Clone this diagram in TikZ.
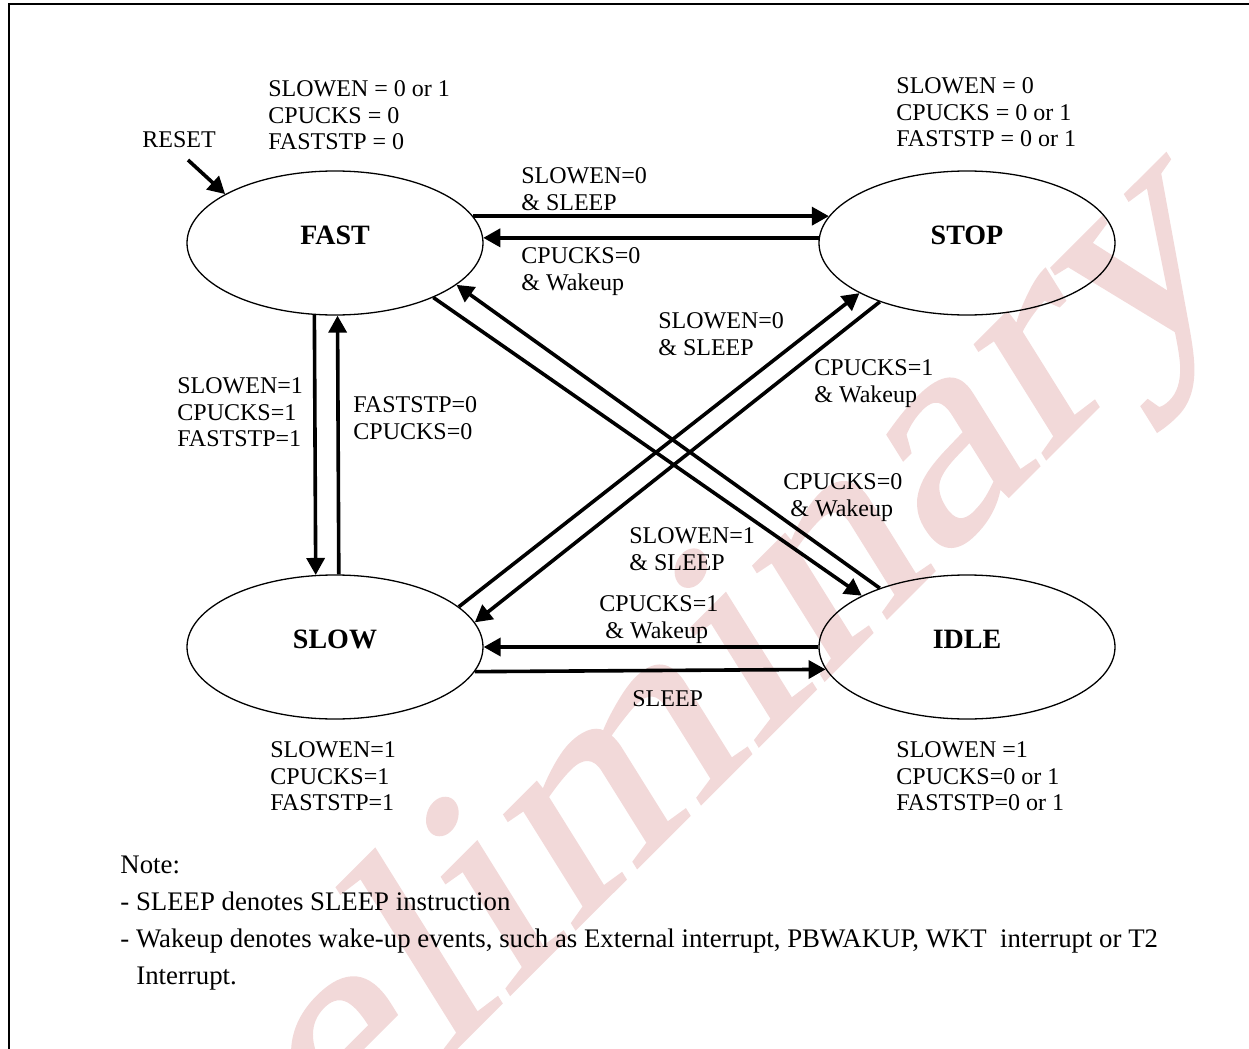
\documentclass[tikz,border=0pt]{standalone}
\usepackage{fontspec}
\setmainfont{Liberation Serif}
\newfontfamily\wmfont{Liberation Serif}[FakeBold=1]
\usepackage{xcolor}
\usetikzlibrary{shapes.geometric}
\usetikzlibrary{arrows.meta}
\definecolor{wmpink}{RGB}{242,217,217}

\begin{document}
\begin{tikzpicture}[
  x=0.5pt, y=-0.5pt,
  state/.style={draw, ellipse, line width=0.65pt, minimum width=148pt,
    minimum height=72pt, inner sep=0pt, text depth=8pt,
    font=\fontsize{14}{16}\selectfont\bfseries},
  info/.style={anchor=north west, inner sep=0pt, align=left,
    font=\fontsize{12}{13.4}\selectfont},
  trans/.style={-{Triangle[length=8.5pt,width=9pt]}, line width=1.8pt}
]
\useasboundingbox (0,0) rectangle (1249,1049);

% Watermark behind everything
\begin{scope}
\clip (0,0) rectangle (1249,1049);
\begin{scope}[shift={(126,1378)}, yscale=1.265]
\node[transform shape, rotate=38.3, xscale=1.2, anchor=base west, inner sep=0pt,
  text=wmpink, font=\wmfont\fontsize{125}{125}\selectfont] (wmark) at (0,0) {Preliminary};
\end{scope}
\end{scope}

% Page frame
\draw[line width=1pt] (9,1049) -- (9,4) -- (1249,4);

% The four power modes
\node[state] (FAST) at (335,243) {FAST};
\node[state] (STOP) at (967,243) {STOP};
\node[state] (SLOW) at (335,647) {SLOW};
\node[state] (IDLE) at (967,647) {IDLE};

% Register settings in each mode
\node[info] (fastinfo) at (268,80) {SLOWEN = 0 or 1\\CPUCKS = 0\\FASTSTP = 0};
\node[info] (stopinfo) at (896,77) {SLOWEN = 0\\CPUCKS = 0 or 1\\FASTSTP = 0 or 1};
\node[info] (slowinfo) at (270,741) {SLOWEN=1\\CPUCKS=1\\FASTSTP=1};
\node[info] (idleinfo) at (896,741) {SLOWEN =1\\CPUCKS=0 or 1\\FASTSTP=0 or 1};

% Reset entry
\node[info] (rst) at (142,131) {RESET};
\coordinate (rsttail) at (188,160);
\draw[trans] (rsttail) -- (FAST.156.2);

% Transitions
\draw[trans] (FAST.11) -- (STOP.169);
\draw[trans] (STOP.178) -- (FAST.2);
\draw[trans] (FAST.254.3) -- (SLOW.105.7);
\draw[trans] (SLOW.87.6) -- (FAST.272.4);
\draw[trans] (FAST.331.5) -- (IDLE.154.8);
\draw[trans] (IDLE.146.2) -- (FAST.341.2);
\draw[trans] (SLOW.18.9) -- (STOP.205.2);
\draw[trans] (STOP.214.1) -- (SLOW.10.1);
\draw[trans] (IDLE.180) -- (SLOW.0);
\draw[trans] (SLOW.350.5) -- (IDLE.189.5);

% Transition conditions
\node[info] (fs) at (521,167) {SLOWEN=0\\\& SLEEP};
\node[info] (sf) at (521,247) {CPUCKS=0\\\& Wakeup};
\node[info] (ls) at (658,312) {SLOWEN=0\\\& SLEEP};
\node[info] (sl) at (814,359) {CPUCKS=1\\\& Wakeup};
\node[info] (fl) at (177,377) {SLOWEN=1\\CPUCKS=1\\FASTSTP=1};
\node[info] (lf) at (353,396) {FASTSTP=0\\CPUCKS=0};
\node[info] (if) at (783,473) {CPUCKS=0\\\hspace*{3.5pt}\& Wakeup};
\node[info] (fi) at (629,527) {SLOWEN=1\\\& SLEEP};
\node[info] (il) at (599,595) {CPUCKS=1\\\hspace*{3pt}\& Wakeup};
\node[info] (li) at (632,690) {SLEEP};

% Note below the diagram
\node[info, font=\fontsize{13.4}{18.5}\selectfont] (note) at (120,856)
  {Note:\\- SLEEP denotes SLEEP instruction\\- Wakeup denotes wake-up events, such as External interrupt, PBWAKUP, WKT\ \ interrupt or T2\\\hspace*{8pt}Interrupt.};

\end{tikzpicture}
\end{document}
